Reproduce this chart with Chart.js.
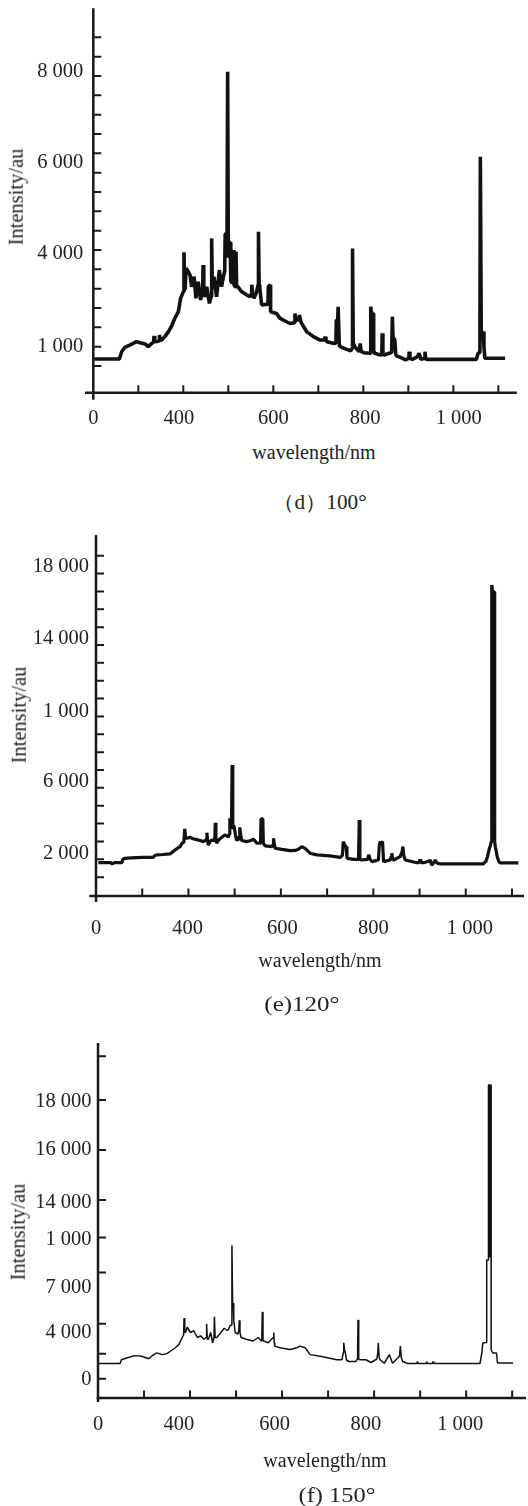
<!DOCTYPE html>
<html>
<head>
<meta charset="utf-8">
<script src="https://cdn.jsdelivr.net/npm/chart.js@4.4.1/dist/chart.umd.min.js"></script>
<style>
  body { margin: 0; background: #fff; width: 528px; height: 1506px; position: relative; overflow: hidden;
         font-family: "Liberation Serif", serif; color: #222; }
  canvas { position: absolute; left: 0; }
  .t { position: absolute; white-space: nowrap; line-height: 1; font-size: 20px; transform: translate(-50%, -50%); }
  .v { font-size: 20.5px; transform: translate(-50%, -50%) rotate(-90deg); }
</style>
</head>
<body>
<canvas id="c100" width="528" height="440" style="top:0"></canvas>
<canvas id="c120" width="528" height="430" style="top:520px"></canvas>
<canvas id="c150" width="528" height="420" style="top:1030px"></canvas>

<div class="t v" style="left:16px;top:197px">Intensity/au</div>
<div class="t" style="left:314px;top:452px">wavelength/nm</div>
<div class="t" style="left:320px;top:502px;transform:translate(-50%,-50%) scaleX(1.06)">（d）100°</div>

<div class="t v" style="left:19px;top:715px">Intensity/au</div>
<div class="t" style="left:320px;top:960px">wavelength/nm</div>
<div class="t" style="left:302px;top:1004px;transform:translate(-50%,-50%) scaleX(1.25)">(e)120°</div>

<div class="t v" style="left:18px;top:1232px">Intensity/au</div>
<div class="t" style="left:325px;top:1460px">wavelength/nm</div>
<div class="t" style="left:337px;top:1495px;transform:translate(-50%,-50%) scaleX(1.22)">(f) 150°</div>

<script>
/* spectra: wavelength (nm) and intensity (au, as on each printed axis) */

// (d) 100°
const wl100 = [202,258,263,270,281,296,304,315,322,330,334,335,336.5,341,346,347,348.5,352,359,367,374,381,389,394,400,401.5,403,404,406,409,415,418.5,424,428,433,438.5,443,444,445.5,448,452,458,462,463,464.5,468,474,480,485,489,492,493,495,497,498.5,500,502,504,505.5,508,510,511,512.5,516,517,518.5,521,530,541,548,551,552,554,557,563,566,567,568.5,570,574,588,589,593,594,607,615,622,637,647,648,650,652,657,658,660,663,674,689,704,714,715,717,719,733,739,740,743,744,745.5,746.5,748,763,772,775,776,777.5,781,791,793,795,801,815,816.5,818,822,823,825,838,841,842,843.5,846,861,863,864.5,866,870,872,874,883,894,901,902,903.5,909,920,924,928,936,937,938.5,943,1051,1055,1059,1060,1062,1066,1068,1070,1115];
const int100 = [680,680,870,983,1043,1130,1100,1070,1000,1086,1120,1276,1140,1130,1150,1300,1170,1172,1260,1390,1534,1733,1905,2250,2420,3440,2500,2465,3025,2980,2850,2550,2810,2250,2680,2210,2500,3110,2400,2290,2550,2120,2300,3800,2500,2810,2290,2980,2550,2810,2950,3900,3930,3300,8110,3400,3700,3700,2700,2640,2700,3500,2600,2550,3460,2550,2550,2420,2340,2290,2350,2600,2400,2250,2420,2600,3970,2600,2510,2080,2100,2550,2600,1905,1860,1733,1690,1600,1620,1860,1700,1690,1700,1820,1700,1600,1390,1260,1172,1180,1260,1170,1130,1086,1090,1690,1690,2030,2030,1050,1000,930,897,950,3540,1100,1000,870,1086,880,845,828,2034,1860,1860,900,828,785,800,1345,800,785,845,860,1776,1250,1172,800,760,724,655,700,870,700,672,740,828,672,700,870,680,672,672,828,850,5913,1345,1388,1000,700,700];

// (e) 120°
const wl120 = [205,232,235,240,256,258,262,276,300,324,326,331,345,360,370,378,382,386,390,392,394,396,403,410,418,425,432,436,439,440,441.5,443,447,450,454,457,458,459.5,461,466,472,479,484,486,488,489.5,491,493,494.5,496,499,502,504,508,510,511,513,515,526,535,541,548,556,557,561,562,566,580,583,584,586,587,602,620,632,638,645,652,663,678,706,728,733,735,738,741,743,744,757,768,769.5,771,773,788,790,793,797,811,813,815,817,820,822,823,836,839,840,842,844,858,862,864,866,869,894,899,901,903,909,921,923,926,929,934,937,945,1038,1044,1047,1051,1053,1055.5,1056.3,1058,1061.5,1062.5,1064,1068,1072,1075,1114];
const int120 = [1810,1810,1740,1810,1810,2000,2050,2080,2110,2110,2190,2250,2270,2300,2500,2650,2710,2900,2950,3700,3200,3180,3230,3150,3100,3050,2990,3050,3100,3490,3000,2800,3000,3080,3050,3100,4050,3100,2900,3100,3230,3360,3300,3230,3400,4300,3800,3700,7280,3900,3830,3300,3080,3100,3300,3790,3400,3050,2990,3050,3120,2900,2900,4260,4260,2900,2750,2710,2800,3180,2800,2620,2560,2490,2500,2560,2710,2620,2340,2250,2190,2110,2200,2990,2800,2710,2100,2050,2000,2000,4200,2000,1960,2000,2250,2000,1870,1960,2800,2990,2900,2990,1900,1870,1960,2150,2340,2000,1960,2150,2400,2710,2200,1960,1810,1810,2000,1810,1810,1900,1960,1680,1750,1960,1800,1740,1740,1900,2150,2600,2750,3000,17360,16990,16990,3000,2700,2150,1850,1800,1800];

// (f) 150°
const wl150 = [200,248,251,262,280,295,310,321,328,339,350,357,368,376,383,386,387,388.5,390,394,401,408,416,423,430,435,436,437.5,440,445,449,452,453,454.5,458,467,474,482,487,490,491,492.5,494,495,498,504,506,507,508.5,511,522,537,548,555,556,557,558.5,560,570,578,581,582,583,584,595,617,632,639,650,661,683,701,719,730,733,734,736,737,740,745,760,764,765,766.5,768,782,793,806,808,809,811,813,822,833,840,855,857,859,862,873,893,894,896,913,914,916,927,928,930,1030,1034,1036,1043.5,1044.6,1048.5,1048.5,1051.2,1051.2,1051.3,1054,1054,1054.6,1058,1066,1068,1102];
const int150 = [7460,7460,7610,7680,7775,7750,7650,7815,7885,7815,7855,7950,8090,8225,8500,8600,9280,8700,8700,8910,8700,8770,8500,8565,8430,8500,9045,8430,8430,8700,8290,8500,9330,8500,8500,8700,8870,8770,8975,9000,12190,9870,9870,9200,8700,8635,8800,9185,8700,8500,8430,8360,8500,8360,8500,9525,8400,8360,8290,8450,8500,8700,8300,8155,8090,8020,8090,8155,8090,7815,7750,7680,7610,7610,7900,8290,7950,7950,7600,7540,7540,7650,9210,7650,7610,7610,7500,7640,7900,8290,7700,7610,7470,7815,7470,7750,8155,7700,7540,7460,7460,7540,7460,7460,7540,7460,7460,7540,7460,7460,7880,8280,8300,11600,11600,18600,18600,11700,18600,18600,11600,8000,7880,7880,7480,7480];

// tick labels, as printed, and where they sit on each axis
const xLabelText = ['0', '400', '600', '800', '1 000'];
const xLabelAt100 = [200, 390, 600, 804, 1012];
const xLabelAt120 = [200, 398, 603, 800, 1009];
const xLabelAt150 = [200, 376, 584, 782, 987];

const yLabelText100 = ['8 000', '6 000', '4 000', '1 000'];
const yLabelAt100 = [8100, 5750, 3400, 1000];
const yLabelText120 = ['18 000', '14 000', '1 000', '6 000', '2 000'];
const yLabelAt120 = [18380, 14340, 10270, 6350, 2340];
const yLabelText150 = ['18 000', '16 000', '14 000', '1 000', '7 000', '4 000', '0'];
const yLabelAt150 = [17930, 16000, 13880, 12400, 10480, 8680, 6800];

// short inward tick marks
const xMarks = [300, 400, 500, 600, 700, 800, 900, 1000, 1100];
const yMarks100 = [500,1000,1500,2000,2500,3000,3500,4000,4500,5000,5500,6000,6500,7000,7500,8000,8500,9000];
const yMarks120 = [1000,2000,3000,4000,5000,6000,7000,8000,9000,10000,11000,12000,13000,14000,15000,16000,17000,18000,19000];
const yMarks150 = [19750, 18000, 16000, 14000, 12500, 11100, 9050, 7850, 6850];

Chart.defaults.font.family = '"Liberation Serif", "Times New Roman", serif';
Chart.defaults.color = '#222';

function axesPlugin(o) {
  return {
    id: 'axesIn',
    afterDatasetsDraw(chart) {
      const { ctx, chartArea: a, scales: { x, y } } = chart;
      const x0 = x.getPixelForValue(200);
      ctx.save();
      ctx.strokeStyle = '#1a1a1a';
      ctx.lineWidth = 2.5;
      ctx.beginPath();
      ctx.moveTo(x0, a.top); ctx.lineTo(x0, a.bottom + o.below);
      ctx.moveTo(x0 - o.before, a.bottom); ctx.lineTo(a.right, a.bottom);
      ctx.stroke();
      ctx.lineWidth = 2;
      ctx.beginPath();
      o.yMarks.forEach(v => { const p = y.getPixelForValue(v); ctx.moveTo(x0, p); ctx.lineTo(x0 + 8, p); });
      xMarks.forEach(v => { const p = x.getPixelForValue(v); ctx.moveTo(p, a.bottom); ctx.lineTo(p, a.bottom - 7.5); });
      ctx.stroke();
      ctx.restore();
    }
  };
}

function panel(id, o) {
  const tickFont = { size: 20.5 };
  return new Chart(document.getElementById(id), {
    type: 'line',
    data: {
      datasets: [{
        data: o.wl.map((w, i) => ({ x: w, y: o.val[i] })),
        borderColor: '#111',
        borderWidth: o.lw,
        borderJoinStyle: 'bevel',
        pointRadius: 0,
        tension: 0,
        fill: false
      }]
    },
    options: {
      responsive: false,
      animation: false,
      events: [],
      layout: { padding: o.pad },
      plugins: { legend: { display: false }, tooltip: { enabled: false } },
      scales: {
        x: {
          type: 'linear', min: 200, max: o.xMax,
          grid: { display: false, drawTicks: false }, border: { display: false },
          afterBuildTicks: s => { s.ticks = o.xAt.map(v => ({ value: v })); },
          afterFit: s => { s.height = o.hx; s.paddingLeft = 0; s.paddingRight = 0; },
          ticks: { autoSkip: false, maxRotation: 0, padding: o.xPad, font: tickFont, color: '#222',
                   callback: (v, i) => xLabelText[i] }
        },
        y: {
          type: 'linear', min: o.yMin, max: o.yMax,
          grid: { display: false, drawTicks: false }, border: { display: false },
          afterBuildTicks: s => { s.ticks = o.yAt.map(v => ({ value: v })); },
          afterFit: s => { s.width = 90; s.paddingTop = 0; s.paddingBottom = 0; },
          ticks: { autoSkip: false, padding: o.yPad, font: tickFont, color: '#222',
                   callback: (v, i) => o.yText[i] }
        }
      }
    },
    plugins: [axesPlugin(o)]
  });
}

panel('c100', {
  wl: wl100, val: int100, lw: 3.6,
  pad: { left: 3.3, top: 8.3, right: 11.2, bottom: 2.3 }, hx: 45,
  xMax: 1141, yMin: -190, yMax: 9750,
  xAt: xLabelAt100, yAt: yLabelAt100, yText: yLabelText100,
  xPad: 13.3, yPad: 10, yMarks: yMarks100, below: 7, before: 8.3
});

panel('c120', {
  wl: wl120, val: int120, lw: 3.2,
  pad: { left: 6, top: 15, right: 4, bottom: 9 }, hx: 45,
  xMax: 1126, yMin: -55, yMax: 20160,
  xAt: xLabelAt120, yAt: yLabelAt120, yText: yLabelText120,
  xPad: 20, yPad: 7, yMarks: yMarks120, below: 6, before: 6.7
});

panel('c150', {
  wl: wl150, val: int150, lw: 1.5,
  pad: { left: 8, top: 13, right: 2, bottom: 12 }, hx: 40,
  xMax: 1130, yMin: 6080, yMax: 20280,
  xAt: xLabelAt150, yAt: yLabelAt150, yText: yLabelText150,
  xPad: 14.4, yPad: 6.5, yMarks: yMarks150, below: 4, before: 1.5
});
</script>
</body>
</html>
